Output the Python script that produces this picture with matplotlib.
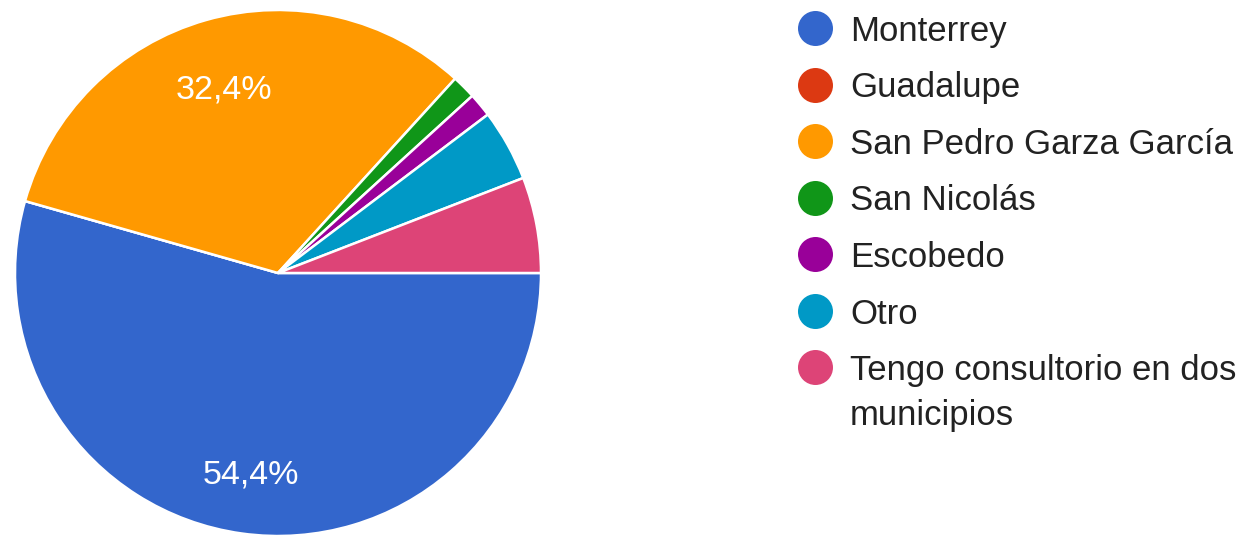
import matplotlib
matplotlib.use("Agg")
import matplotlib.pyplot as plt

categories = ["Monterrey", "Guadalupe", "San Pedro Garza García", "San Nicolás",
              "Escobedo", "Otro", "Tengo consultorio en dos\nmunicipios"]
counts = [37, 0, 22, 1, 1, 3, 4]
colors = ["#3366cc", "#dc3912", "#ff9900", "#109618", "#990099", "#0099c6", "#dd4477"]

W, H = 1241, 538
fig = plt.figure(figsize=(W / 100, H / 100), dpi=100)
ax = fig.add_axes([0, 0, 1, 1])

font = "Liberation Sans"


def pct_label(p):
    return f"{p:.1f}%".replace(".", ",") if p > 10 else ""


wedges, _, autotexts = ax.pie(
    counts, colors=colors, startangle=0, counterclock=False,
    center=(278, 265), radius=263, autopct=pct_label, pctdistance=0.75,
    wedgeprops=dict(edgecolor="white", linewidth=1.8),
    textprops=dict(color="white", fontsize=24.5, family=font),
    frame=True,
)
# center the percentage labels on their digits rather than the full line box
for t in autotexts:
    t.set_verticalalignment("center_baseline")
    x, y = t.get_position()
    t.set_position((x, y - 3))

ax.set_xlim(0, W)
ax.set_ylim(0, H)
ax.set_aspect("equal")
ax.axis("off")

# legend: colored dots with labels, one row per category
row_y0 = H - 28
row_step = 56.5
line_gap = 45
for i, (name, col) in enumerate(zip(categories, colors)):
    y = row_y0 - i * row_step
    ax.scatter([815], [y], s=25.2 ** 2, color=col, zorder=3, linewidths=0)
    for k, line in enumerate(name.split("\n")):
        ax.text(850, y - 13 - k * line_gap, line, fontsize=25, family=font,
                color="#222222", va="baseline", ha="left")

fig.savefig("out.png", dpi=100, facecolor="white")
